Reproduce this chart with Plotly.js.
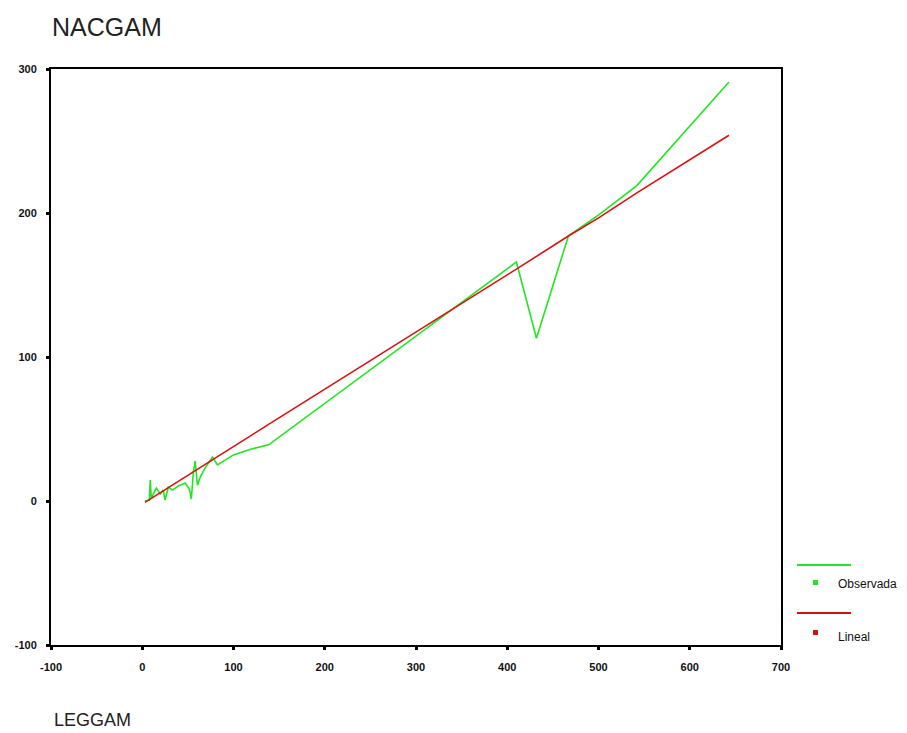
<!DOCTYPE html>
<html>
<head>
<meta charset="utf-8">
<script src="https://cdn.plot.ly/plotly-3.0.1.min.js"></script>
<style>
html,body{margin:0;padding:0;background:#fff;}
#chart{width:907px;height:733px;}
</style>
</head>
<body>
<div id="chart"></div>
<script>
// Observed series (LEGGAM vs NACGAM)
var obsX = [3, 7.7, 8.8, 9.9, 15.4, 19.8, 23, 25, 28.6, 33, 39.6, 47, 51.6, 53.8, 56, 58, 60.4, 63.7, 69, 77, 82.4, 100, 118.7, 138.5, 410, 432, 467, 501, 542, 643];
var obsY = [0, 0.7, 14.6, 2, 9, 4.9, 7.6, 0.7, 9.7, 7.6, 10.4, 12.5, 8.3, 1.4, 20, 27.8, 11, 16.7, 23, 30.6, 25, 32, 36, 39, 166, 113, 184, 199, 219, 291];
// Linear fit series
var linX = [3, 28, 58, 100, 118, 138, 410, 432, 467, 501, 542, 643];
var linY = [-1, 9, 21, 38, 45, 53, 161, 170, 184, 197, 214, 254];
var xTicks = [-100, 0, 100, 200, 300, 400, 500, 600, 700];
var yTicks = [-100, 0, 100, 200, 300];
var seriesNames = ['Observada', 'Lineal'];
var titleText = 'NACGAM';
var xTitleText = 'LEGGAM';

var green = '#22e622';
var red = '#d81010';

var traces = [
  {x: obsX, y: obsY, type: 'scatter', mode: 'lines', name: seriesNames[0],
   line: {color: green, width: 1.6}, showlegend: false},
  {x: linX, y: linY, type: 'scatter', mode: 'lines', name: seriesNames[1],
   line: {color: red, width: 1.6}, showlegend: false}
];

var axisFont = {family: 'Liberation Sans, Arial, sans-serif', size: 11, color: '#111', weight: 'bold'};

var layout = {
  width: 907, height: 733,
  paper_bgcolor: '#fff', plot_bgcolor: '#fff',
  margin: {l: 51, r: 126, t: 69, b: 88, pad: 0},
  showlegend: false,
  title: {text: titleText, xref: 'container', yref: 'container', x: 52/907, xanchor: 'left',
          y: 1 - 27/733, yanchor: 'middle',
          font: {family: 'Liberation Sans, Arial, sans-serif', size: 25, color: '#222'}},
  xaxis: {range: [-100, 700], tickvals: xTicks, ticktext: xTicks.map(String),
          showgrid: false, zeroline: false, showline: true, mirror: true,
          linecolor: '#000', linewidth: 2, ticks: 'outside', ticklen: 3, tickwidth: 3,
          tickcolor: '#000', tickfont: axisFont, ticklabelstandoff: 8},
  yaxis: {range: [-100, 300], tickvals: yTicks, ticktext: yTicks.map(String),
          showgrid: false, zeroline: false, showline: true, mirror: true,
          linecolor: '#000', linewidth: 2, ticks: 'outside', ticklen: 3, tickwidth: 3,
          tickcolor: '#000', tickfont: axisFont, ticklabelstandoff: 7},
  shapes: [
    {type: 'line', xref: 'paper', yref: 'paper', x0: (797-51)/730, x1: (851-51)/730,
     y0: (645-565)/576, y1: (645-565)/576, line: {color: green, width: 2}},
    {type: 'rect', xref: 'paper', yref: 'paper', x0: (813-51)/730, x1: (818-51)/730,
     y0: (645-585)/576, y1: (645-580)/576, line: {width: 0}, fillcolor: green},
    {type: 'line', xref: 'paper', yref: 'paper', x0: (797-51)/730, x1: (851-51)/730,
     y0: (645-613)/576, y1: (645-613)/576, line: {color: red, width: 2}},
    {type: 'rect', xref: 'paper', yref: 'paper', x0: (813-51)/730, x1: (818-51)/730,
     y0: (645-635)/576, y1: (645-630)/576, line: {width: 0}, fillcolor: red}
  ],
  annotations: [
    {text: seriesNames[0], xref: 'paper', yref: 'paper', x: (836-51)/730, y: (645-584)/576,
     xanchor: 'left', yanchor: 'middle', showarrow: false,
     font: {family: 'Liberation Sans, Arial, sans-serif', size: 12, color: '#111'}},
    {text: seriesNames[1], xref: 'paper', yref: 'paper', x: (836-51)/730, y: (645-637)/576,
     xanchor: 'left', yanchor: 'middle', showarrow: false,
     font: {family: 'Liberation Sans, Arial, sans-serif', size: 12, color: '#111'}},
    {text: xTitleText, xref: 'paper', yref: 'paper', x: (52-51)/730, y: (645-720)/576,
     xanchor: 'left', yanchor: 'middle', showarrow: false,
     font: {family: 'Liberation Sans, Arial, sans-serif', size: 18, color: '#222'}}
  ]
};

Plotly.newPlot('chart', traces, layout, {displayModeBar: false, staticPlot: true});
</script>
</body>
</html>
